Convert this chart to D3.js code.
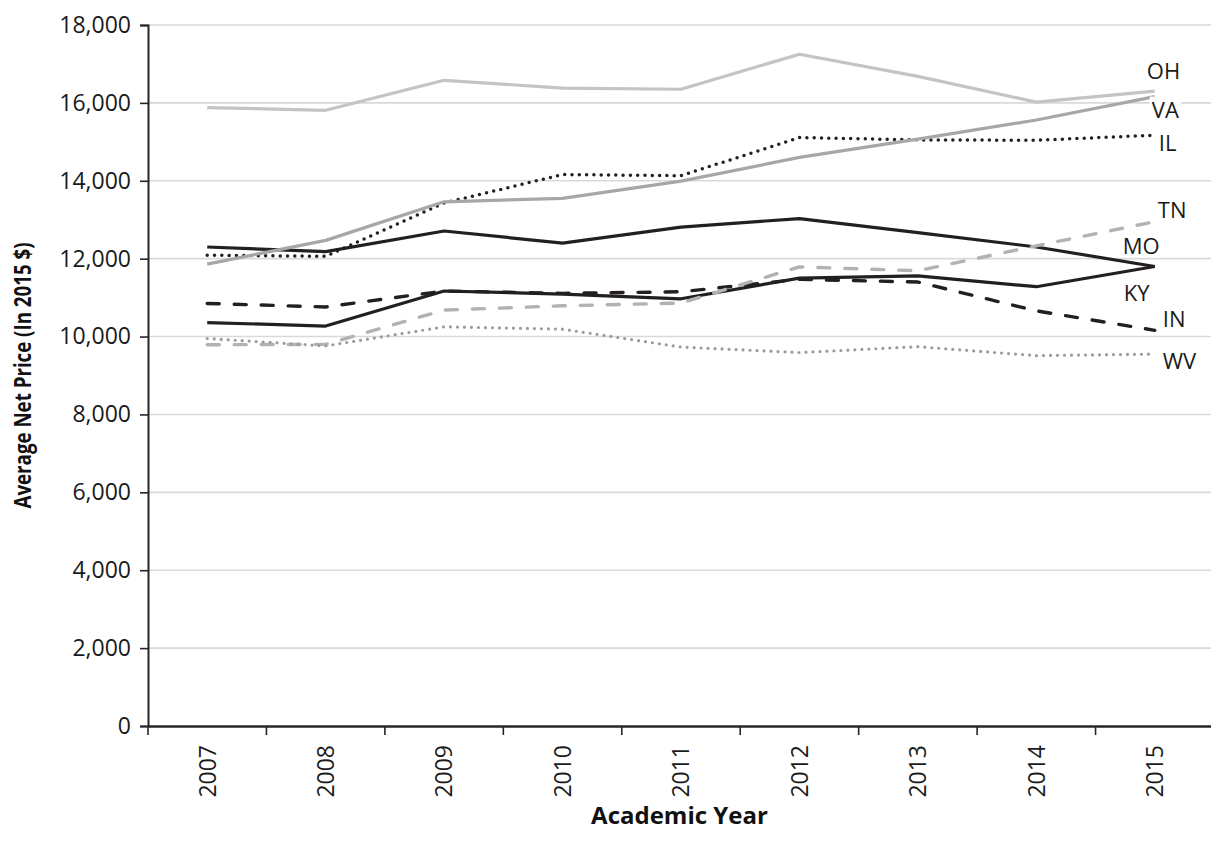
<!DOCTYPE html>
<html>
<head>
<meta charset="utf-8">
<script src="https://cdn.jsdelivr.net/npm/d3@7"></script>
<style>
  html, body { margin: 0; padding: 0; background: #fff; }
  svg { display: block; font-family: "Open Sans", sans-serif; }
</style>
</head>
<body>
<svg id="chart" width="1211" height="842"></svg>
<script>
// ---- data ----
const years = ["2007", "2008", "2009", "2010", "2011", "2012", "2013", "2014", "2015"];
const yTicks = [0, 2000, 4000, 6000, 8000, 10000, 12000, 14000, 16000, 18000];
const seriesNames = ["MO", "KY", "IN", "IL", "OH", "VA", "TN", "WV"];
const OH = [15880, 15810, 16580, 16380, 16350, 17250, 16680, 16020, 16300];
const VA = [11860, 12470, 13460, 13550, 13990, 14600, 15070, 15560, 16160];
const IL = [12090, 12060, 13430, 14160, 14130, 15110, 15050, 15040, 15170];
const TN = [9790, 9800, 10680, 10790, 10860, 11790, 11690, 12330, 12950];
const MO = [12300, 12180, 12710, 12400, 12810, 13030, 12670, 12300, 11800];
const KY = [10360, 10270, 11170, 11090, 10970, 11500, 11560, 11280, 11800];
const IN = [10850, 10760, 11170, 11110, 11150, 11470, 11400, 10660, 10160];
const WV = [9950, 9760, 10250, 10190, 9730, 9590, 9740, 9510, 9550];
const seriesValues = { OH, VA, IL, TN, MO, KY, IN, WV };

(function () {
// ---- styles ----
const styles = {
  OH: { color: "#c4c4c7", width: 3.2, dash: null },
  VA: { color: "#a7a7aa", width: 3.2, dash: null },
  IL: { color: "#231f20", width: 3.5, dash: "0 7.3", cap: "round" },
  TN: { color: "#b2b2b4", width: 3.4, dash: "12 15", cap: "round" },
  MO: { color: "#231f20", width: 3.2, dash: null },
  KY: { color: "#231f20", width: 3.2, dash: null },
  IN: { color: "#231f20", width: 3.4, dash: "12 15", cap: "round" },
  WV: { color: "#9b9b9d", width: 3.2, dash: "0 7", cap: "round" }
};
// label offsets relative to the last point (dx, dy in px)
const labelOffsets = {
  OH: [-8, -21], VA: [-3, 12], IL: [4, 7], TN: [3, -13],
  MO: [-32, -21], KY: [-31, 26], IN: [8, -12], WV: [8, 6]
};

const svg = d3.select("#chart");
const mLeft = 148, mRight = 1214, mTop = 25, mBottom = 726;

const x = d3.scaleBand().domain(years).range([mLeft, mRight]).padding(0);
const y = d3.scaleLinear().domain([0, 18000]).range([mBottom, mTop]);
const cx = d => x(d) + x.bandwidth() / 2;

// gridlines
svg.append("g")
  .selectAll("line")
  .data(yTicks.filter(t => t > 0))
  .join("line")
  .attr("x1", mLeft).attr("x2", 1211)
  .attr("y1", d => y(d)).attr("y2", d => y(d))
  .attr("stroke", "#d9d9d9").attr("stroke-width", 1.6);

// y axis
const yAxis = svg.append("g")
  .attr("transform", `translate(${mLeft},0)`)
  .call(d3.axisLeft(y).tickValues(yTicks).tickFormat(d3.format(",")).tickSize(8).tickPadding(9));
yAxis.select(".domain").attr("stroke", "#262626").attr("stroke-width", 2);
yAxis.selectAll(".tick line").attr("stroke", "#262626").attr("stroke-width", 1.6);
yAxis.selectAll(".tick text")
  .attr("font-family", "Open Sans").attr("font-size", 23).attr("fill", "#1a1a1a");

// x axis
const xAxis = svg.append("g")
  .attr("transform", `translate(0,${mBottom})`)
  .call(d3.axisBottom(x).tickSize(0).tickFormat(d => d));
xAxis.select(".domain").attr("stroke", "#262626").attr("stroke-width", 2.4);
xAxis.selectAll(".tick text")
  .attr("font-family", "Open Sans").attr("font-size", 23).attr("fill", "#1a1a1a")
  .attr("text-anchor", "end")
  .attr("transform", "rotate(-90)")
  .attr("x", -19).attr("y", 0).attr("dy", "0.36em");
// boundary ticks between bands
svg.append("g")
  .selectAll("line")
  .data(years)
  .join("line")
  .attr("x1", d => x(d)).attr("x2", d => x(d))
  .attr("y1", mBottom).attr("y2", mBottom + 9)
  .attr("stroke", "#262626").attr("stroke-width", 1.6);

// lines
const line = d3.line().x((d, i) => cx(years[i])).y(d => y(d));
const gLines = svg.append("g");
seriesNames.forEach(name => {
  const s = styles[name];
  gLines.append("path")
    .datum(seriesValues[name])
    .attr("d", line)
    .attr("fill", "none")
    .attr("stroke", s.color)
    .attr("stroke-width", s.width)
    .attr("stroke-linejoin", "round")
    .attr("stroke-linecap", s.cap || "butt")
    .attr("stroke-dasharray", s.dash);
});

// series labels
const gLabels = svg.append("g");
["OH", "VA", "IL", "TN", "MO", "KY", "IN", "WV"].forEach(name => {
  const vals = seriesValues[name];
  const last = years.length - 1;
  const [dx, dy] = labelOffsets[name];
  const g = gLabels.append("g");
  const t = g.append("text")
    .attr("x", cx(years[last]) + dx)
    .attr("y", y(vals[last]) + dy)
    .attr("dominant-baseline", "central")
    .attr("font-family", "Open Sans").attr("font-size", 22).attr("fill", "#1a1a1a")
    .text(name);
  const bb = t.node().getBBox();
  g.insert("rect", "text")
    .attr("x", bb.x - 2).attr("y", bb.y + 3)
    .attr("width", bb.width + 4).attr("height", bb.height - 6)
    .attr("fill", "#fff");
});

// axis titles
svg.append("text")
  .attr("x", (mLeft + 1211) / 2).attr("y", 824)
  .attr("text-anchor", "middle")
  .attr("font-family", "Open Sans").attr("font-weight", "bold").attr("font-size", 24)
  .attr("fill", "#111")
  .text("Academic Year");

svg.append("text")
  .attr("transform", `translate(31,${(mTop + mBottom) / 2}) rotate(-90)`)
  .attr("text-anchor", "middle")
  .attr("font-family", "Open Sans").attr("font-weight", "bold").attr("font-size", 24)
  .attr("textLength", 266).attr("lengthAdjust", "spacingAndGlyphs")
  .attr("fill", "#111")
  .text("Average Net Price (In 2015 $)");
})();
</script>
</body>
</html>
